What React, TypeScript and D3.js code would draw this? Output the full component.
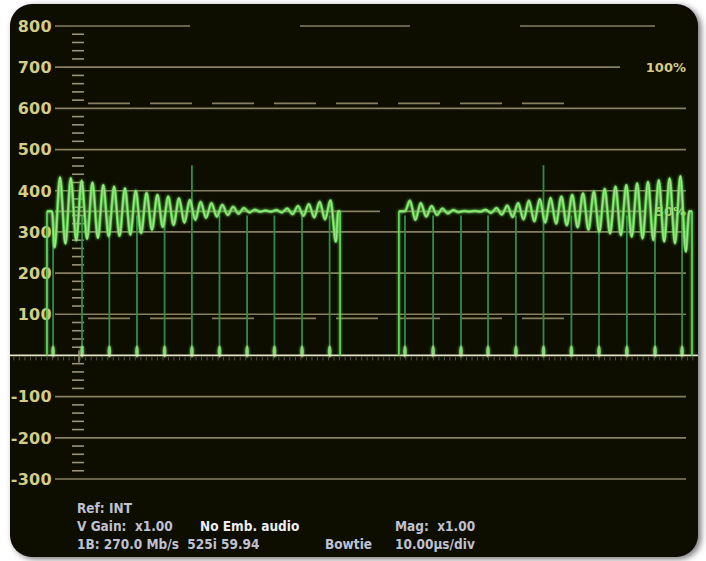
import * as d3 from 'd3'

// graticule levels (mV) and their labels
const levels = [800, 700, 600, 500, 400, 300, 200, 100, -100, -200, -300]
const dashedLevels = [612, 90]
const percentMarks = [
  { level: 700, label: '100%' },
  { level: 350, label: '50%' },
]

// spike markers (µs) and the two that stand taller
const spikeTimes = [2.2, 12.7, 22.6, 32.6, 42.6, 52.5, 62.5, 72.5, 82.4, 92.4, 102.4,
  129.7, 139.9, 150, 159.8, 169.9, 179.9, 190, 200, 210.1, 220.3, 230.1]
const tallSpikes = [52.5, 179.9]

// bowtie trace, left channel: peak / trough levels read per cycle
const leftPeaks = [433, 431, 425, 420, 414, 410, 406, 400, 395, 390, 386, 382, 378,
  373, 370, 366, 361, 358, 354, 352, 353, 357, 363, 368, 373, 377]
const leftTroughs = [262, 271, 279, 283, 285, 289, 290, 293, 297, 305, 312, 317, 322,
  329, 334, 337, 341, 344, 347, 349, 349, 347, 343, 339, 335, 330, 276]

// right channel
const rightPeaks = [376, 370, 363, 357, 353, 351, 351, 354, 358, 364, 370, 376, 380,
  383, 386, 390, 394, 398, 405, 410, 414, 418, 422, 426, 430, 436]
const rightTroughs = [329, 337, 341, 345, 348, 349, 349, 346, 342, 336, 330, 325, 322,
  320, 316, 311, 305, 300, 296, 292, 288, 284, 280, 276, 272, 252]

const statusLines = [
  [{ text: 'Ref: INT', x: 77 }],
  [{ text: 'V Gain:  x1.00', x: 77 }, { text: 'No Emb. audio', x: 200, hi: true }, { text: 'Mag:  x1.00', x: 395 }],
  [{ text: '1B: 270.0 Mb/s  525i 59.94', x: 77 }, { text: 'Bowtie', x: 325 }, { text: '10.00µs/div', x: 395 }],
]

type Pt = { t: number; v: number }

const PERIOD = 3.92
const PEDESTAL = 350

export default function App() {
  const W = 706
  const H = 561
  const y = d3.scaleLinear().domain([-300, 800]).range([479, 26])
  const x = d3.scaleLinear().domain([0, 233.7]).range([47, 692])

  const gLeft = 55
  const gRight = 686
  const gratColor = '#877f60'
  const labelColor = '#d3cd86'

  // left trace points
  const leftPts: Pt[] = [{ t: 0, v: PEDESTAL }, { t: 1.8, v: PEDESTAL }]
  const lp0 = 4.71
  leftPeaks.forEach((p, k) => {
    const tp = lp0 + k * PERIOD
    leftPts.push({ t: tp - PERIOD / 2, v: leftTroughs[k] })
    leftPts.push({ t: tp, v: p })
  })
  const lEnd = lp0 + (leftPeaks.length - 1) * PERIOD
  leftPts.push({ t: lEnd + PERIOD / 2, v: leftTroughs[leftTroughs.length - 1] })
  leftPts.push({ t: 105.5, v: PEDESTAL }, { t: 106.2, v: PEDESTAL })

  const rightPts: Pt[] = [{ t: 127.5, v: PEDESTAL }, { t: 129.7, v: PEDESTAL }]
  const rp0 = 131.5
  rightPeaks.forEach((p, k) => {
    const tp = rp0 + k * PERIOD
    rightPts.push({ t: tp, v: p })
    rightPts.push({ t: tp + PERIOD / 2, v: rightTroughs[k] })
  })
  rightPts.push({ t: 232.7, v: PEDESTAL }, { t: 233.7, v: PEDESTAL })

  const line = d3
    .line<Pt>()
    .x((d) => x(d.t))
    .y((d) => y(d.v))
    .curve(d3.curveMonotoneX)

  const edges = [0, 106.2, 127.5, 233.7]
  const zeroTicks = d3.range(-12, 236, 2)
  const scaleTicks = d3.range(-280, 800, 20).filter((v) => v % 100 !== 0)
  const traces = [leftPts, rightPts]

  return (
    <svg width={W} height={H} style={{ position: 'absolute', left: 0, top: 0 }}>
      <defs>
        <filter id="shadow" x="-5%" y="-5%" width="110%" height="110%">
          <feDropShadow dx="3" dy="2" stdDeviation="3" floodColor="#000" floodOpacity="0.55" />
        </filter>
        <filter id="glow" x="-5%" y="-20%" width="110%" height="140%">
          <feGaussianBlur stdDeviation="1.6" result="b" />
          <feMerge>
            <feMergeNode in="b" />
            <feMergeNode in="SourceGraphic" />
          </feMerge>
        </filter>
      </defs>
      <rect width={W} height={H} fill="#ffffff" />
      <rect x={10} y={4} width={688} height={553} rx={22} fill="#0b0706" filter="url(#shadow)" />

      {/* graticule */}
      <g stroke={gratColor} strokeWidth={1.7}>
        {levels.map((v) => {
          if (v === 800) {
            return [[55, 190], [300, 410], [520, 655]].map(([a, b], i) => (
              <line key={`800-${i}`} x1={a} x2={b} y1={y(v)} y2={y(v)} />
            ))
          }
          return <line key={v} x1={gLeft} x2={v === 700 ? 620 : gRight} y1={y(v)} y2={y(v)} />
        })}
        {[[55, 380], [400, 645]].map(([a, b], i) => (
          <line key={`350-${i}`} x1={a} x2={b} y1={y(350)} y2={y(350)} />
        ))}
        {dashedLevels.map((v) => (
          <line key={v} x1={88} x2={564} y1={y(v)} y2={y(v)} strokeDasharray="42 20" />
        ))}
      </g>
      <g stroke="#9b9478" strokeWidth={1.6}>
        {scaleTicks.map((v) => (
          <line key={v} x1={72} x2={84} y1={y(v)} y2={y(v)} />
        ))}
      </g>

      <g fontFamily="'DejaVu Sans', Verdana, sans-serif" fontWeight="bold" fill={labelColor}>
        {levels.map((v) => (
          <text key={v} x={52} y={y(v) + 5.8} fontSize={16} textAnchor="end" letterSpacing={0.3}>
            {v < 0 ? `-${Math.abs(v)}` : v}
          </text>
        ))}
        {percentMarks.map((m) => (
          <text key={m.label} x={686} y={y(m.level) + 5} fontSize={13} textAnchor="end">
            {m.label}
          </text>
        ))}
      </g>

      {/* spikes */}
      <g stroke="#2f8e43" strokeWidth={1.8}>
        {spikeTimes.map((t) => (
          <line key={t} x1={x(t)} x2={x(t)} y1={y(0)} y2={y(tallSpikes.includes(t) ? 462 : 340)} />
        ))}
      </g>
      <g fill="#8fe47e" filter="url(#glow)">
        {spikeTimes.map((t) => (
          <ellipse key={t} cx={x(t)} cy={y(0) - 4} rx={1.8} ry={6} opacity={0.8} />
        ))}
      </g>

      {/* zero line */}
      <line x1={10} x2={698} y1={y(0)} y2={y(0)} stroke="#e4e4c6" strokeWidth={1.7} />
      <g stroke="#55523f" strokeWidth={1}>
        {zeroTicks.map((t) => (
          <line key={t} x1={x(t)} x2={x(t)} y1={y(0) + 1} y2={y(0) + 5} />
        ))}
      </g>
      <line x1={79} x2={79} y1={y(0) - 5} y2={y(0) + 7} stroke="#9b9478" strokeWidth={1.5} />

      {/* trace */}
      <g fill="none" filter="url(#glow)">
        {edges.map((t) => (
          <line key={t} x1={x(t)} x2={x(t)} y1={y(0)} y2={y(PEDESTAL)} stroke="#5fcf55" strokeWidth={1.8} />
        ))}
        {traces.map((pts, i) => (
          <path key={i} d={line(pts) ?? ''} stroke="#68d657" strokeWidth={2.5} />
        ))}
      </g>
      <g fill="none">
        {traces.map((pts, i) => (
          <path key={i} d={line(pts) ?? ''} stroke="#d2f7bc" strokeWidth={0.8} opacity={0.7} />
        ))}
      </g>

      {/* status text */}
      <g fontFamily="'DejaVu Sans Condensed', 'DejaVu Sans', sans-serif" fontWeight="bold" fontSize={13.5}>
        {statusLines.map((row, r) =>
          row.map((s) => (
            <text key={s.text} x={s.x} y={513 + r * 18} fill={s.hi ? '#ececf2' : '#bfc0d2'} xmlSpace="preserve">
              {s.text}
            </text>
          ))
        )}
      </g>
    </svg>
  )
}
